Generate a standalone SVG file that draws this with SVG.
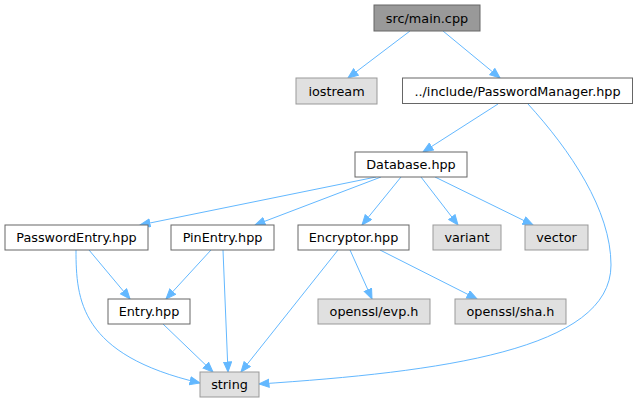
<svg xmlns="http://www.w3.org/2000/svg" width="639" height="403" viewBox="0 0 639 403">
<style>
.n rect{fill:#ffffff;stroke:#666666;stroke-width:1}
.n.sys rect{fill:#e0e0e0;stroke:#999999}
.n.root rect{fill:#999999;stroke:#666666}
.n text{font-family:"DejaVu Sans",sans-serif;font-size:12.8px;fill:#000000;text-anchor:middle}
.e path{fill:none;stroke:#63b8ff;stroke-width:1}
</style>
<defs>
<marker id="ah" markerUnits="userSpaceOnUse" markerWidth="12" markerHeight="10" refX="10.5" refY="4.5" orient="auto">
<path d="M0.5,0.5 L10.5,4.5 L0.5,8.5 z" fill="#63b8ff" stroke="#63b8ff"/>
</marker>
</defs>
<rect width="639" height="403" fill="#ffffff"/>
<g id="edges" class="e">
<path d="M410,31 L348,78" marker-end="url(#ah)"/>
<path d="M443,31 L500,78" marker-end="url(#ah)"/>
<path d="M498,104 L423,152" marker-end="url(#ah)"/>
<path d="M528,104 C570,150 611,210 611,265 C611,350 440,372 259,384" marker-end="url(#ah)"/>
<path d="M376,177 L140,225" marker-end="url(#ah)"/>
<path d="M381,177 L255,225" marker-end="url(#ah)"/>
<path d="M401,177 L362,225" marker-end="url(#ah)"/>
<path d="M421,177 L458,225" marker-end="url(#ah)"/>
<path d="M435,177 L533,225" marker-end="url(#ah)"/>
<path d="M89,250 L130,299" marker-end="url(#ah)"/>
<path d="M76,250 C76,300 80,355 200,383" marker-end="url(#ah)"/>
<path d="M211,250 L166,299" marker-end="url(#ah)"/>
<path d="M223,250 L228,372" marker-end="url(#ah)"/>
<path d="M350,250 L372,299" marker-end="url(#ah)"/>
<path d="M380,250 L477,299" marker-end="url(#ah)"/>
<path d="M338,250 L241,372" marker-end="url(#ah)"/>
<path d="M163,324 L213,372" marker-end="url(#ah)"/>
</g>
<g id="n_main" class="n root"><rect x="374" y="5" width="106" height="26"/><text x="427" y="22.5">src/main.cpp</text></g>
<g id="n_iostream" class="n sys"><rect x="296" y="78" width="81" height="26"/><text x="336.5" y="95.5">iostream</text></g>
<g id="n_pm" class="n"><rect x="402.5" y="78" width="230" height="25.5"/><text x="517.5" y="95.5">../include/PasswordManager.hpp</text></g>
<g id="n_db" class="n"><rect x="355" y="152" width="112" height="25"/><text x="411" y="169">Database.hpp</text></g>
<g id="n_pe" class="n"><rect x="5" y="225" width="143" height="25"/><text x="76.5" y="242">PasswordEntry.hpp</text></g>
<g id="n_pin" class="n"><rect x="171" y="225" width="103" height="25"/><text x="222.5" y="242">PinEntry.hpp</text></g>
<g id="n_enc" class="n"><rect x="298" y="225" width="111" height="25"/><text x="353.5" y="242">Encryptor.hpp</text></g>
<g id="n_variant" class="n sys"><rect x="433" y="225" width="68" height="25"/><text x="467" y="242">variant</text></g>
<g id="n_vector" class="n sys"><rect x="525" y="225" width="63" height="25"/><text x="556.5" y="242">vector</text></g>
<g id="n_entry" class="n"><rect x="108" y="299" width="82" height="25"/><text x="149" y="316">Entry.hpp</text></g>
<g id="n_evp" class="n sys"><rect x="318" y="299" width="112" height="25"/><text x="374" y="316">openssl/evp.h</text></g>
<g id="n_sha" class="n sys"><rect x="455" y="299" width="111" height="25"/><text x="510.5" y="316">openssl/sha.h</text></g>
<g id="n_string" class="n sys"><rect x="200" y="372" width="59" height="25"/><text x="229.5" y="389">string</text></g>
</svg>
